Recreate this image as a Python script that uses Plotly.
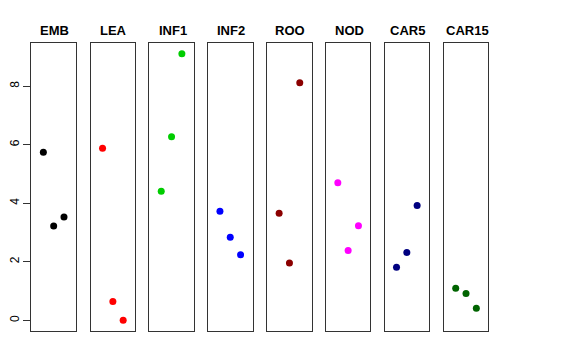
import plotly.graph_objects as go

panels = ["EMB", "LEA", "INF1", "INF2", "ROO", "NOD", "CAR5", "CAR15"]
x_pos = [1, 2, 3]
emb = [5.74, 3.22, 3.53]
lea = [5.88, 0.64, 0.0]
inf1 = [4.41, 6.27, 9.11]
inf2 = [3.73, 2.84, 2.24]
roo = [3.66, 1.96, 8.12]
nod = [4.70, 2.39, 3.23]
car5 = [1.81, 2.32, 3.92]
car15 = [1.10, 0.92, 0.41]
series = [emb, lea, inf1, inf2, roo, nod, car5, car15]
colors = ["#000000", "#FF0000", "#00CD00", "#0000FF", "#8B0000", "#FF00FF", "#000080", "#006400"]
y_ticks = [0, 2, 4, 6, 8]

W, H = 576, 360
off = 8  # page body margin offset
lefts = [28.5, 88, 147, 206, 265.5, 324.5, 383.5, 443]
pw = 44.8
top_px, bot_px = 43, 331

fig = go.Figure()
layout = dict(
    width=W, height=H, margin=dict(l=0, r=0, t=0, b=0),
    paper_bgcolor="white", plot_bgcolor="white", showlegend=False,
    font=dict(family="Liberation Sans, Arial, sans-serif", color="black"),
)
annotations = []
for i, (name, vals, col) in enumerate(zip(panels, series, colors)):
    k = "" if i == 0 else str(i + 1)
    l = lefts[i] - off
    fig.add_trace(go.Scatter(
        x=x_pos, y=vals, mode="markers", xaxis="x" + k, yaxis="y" + k,
        marker=dict(color=col, size=7, line=dict(width=0)),
        hoverinfo="skip",
    ))
    layout["xaxis" + k] = dict(
        domain=[l / W, (l + pw) / W], range=[-0.16, 4.16],
        anchor="y" + k, showgrid=False, zeroline=False, showticklabels=False,
        ticks="", showline=True, mirror=True, linecolor="#333", linewidth=1,
        fixedrange=True,
    )
    ydict = dict(
        domain=[1 - (bot_px - off) / H, 1 - (top_px - off) / H], range=[-0.364, 9.474],
        anchor="x" + k, showgrid=False, zeroline=False,
        showline=True, mirror=True, linecolor="#333", linewidth=1,
        fixedrange=True,
    )
    if i == 0:
        ydict.update(tickvals=y_ticks, ticktext=[str(v) for v in y_ticks],
                     ticks="outside", ticklen=7, tickcolor="#333",
                     tickangle=-90, tickfont=dict(size=12, color="black"),
                     showticklabels=True)
    else:
        ydict.update(showticklabels=False, ticks="")
    layout["yaxis" + k] = ydict
    annotations.append(dict(
        x=(l + pw / 2 + 1) / W, y=1 - (30.5 - off) / H, xref="paper", yref="paper",
        text="<b>%s</b>" % name, showarrow=False, xanchor="center", yanchor="middle",
        font=dict(size=13, color="black"),
    ))
layout["annotations"] = annotations
fig.update_layout(**layout)
fig.write_html("out.html")
